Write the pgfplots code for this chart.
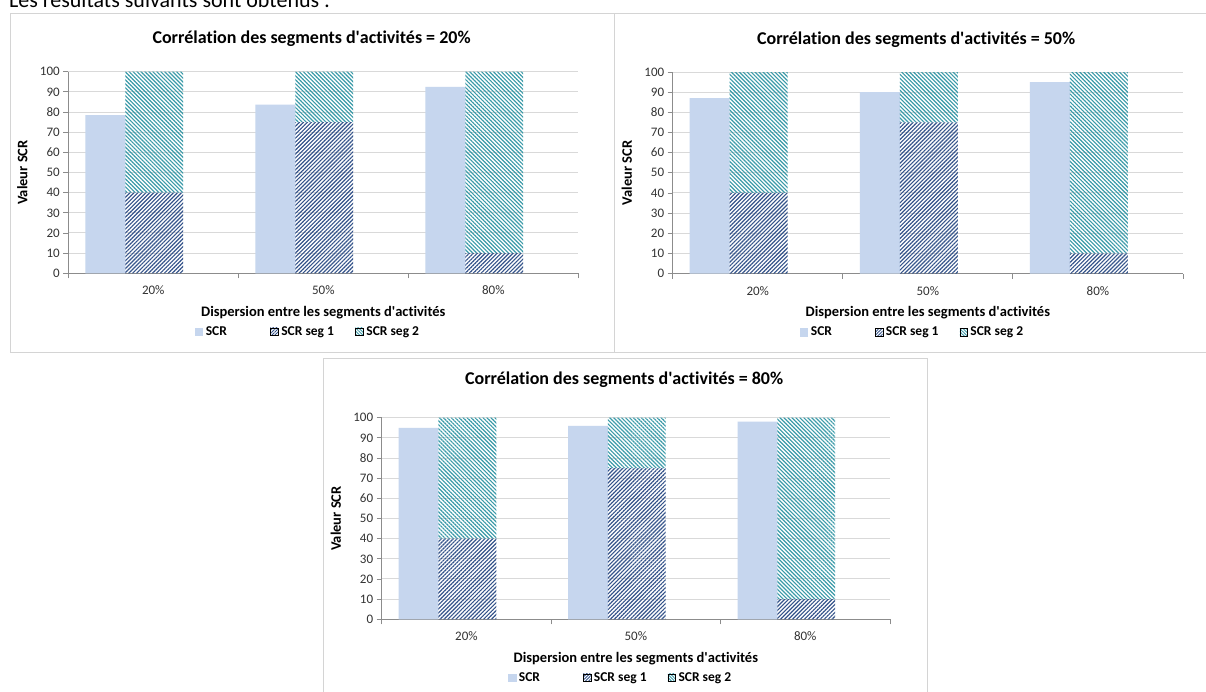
\documentclass[border=0pt]{standalone}
\usepackage{fontspec}
\setmainfont{Carlito}[Ligatures={TeX,NoCommon}]
\usepackage{pgfplots}
\pgfplotsset{compat=1.18}
\usepackage{pgfplotstable}
\usetikzlibrary{patterns.meta}
\definecolor{scr}{HTML}{C6D6EE}
\definecolor{segA}{HTML}{34538A}
\definecolor{segB}{HTML}{3A9AA8}
\definecolor{gridc}{HTML}{D9D9D9}
\definecolor{axisc}{HTML}{8C8C8C}
\definecolor{framec}{HTML}{D4D4D4}
\definecolor{txt}{HTML}{333333}

\pgfplotstableread{
xs xg scr s1 s2
0.2176 0.5056 78.5 40 60
1.2176 1.5056 83.7 75 25
2.2176 2.5056 92.5 10 90
}\tabA
\pgfplotstableread{
xs xg scr s1 s2
0.2176 0.5056 87 40 60
1.2176 1.5056 90 75 25
2.2176 2.5056 95 10 90
}\tabB
\pgfplotstableread{
xs xg scr s1 s2
0.2176 0.5056 95 40 60
1.2176 1.5056 96 75 25
2.2176 2.5056 98 10 90
}\tabC

\pgfplotsset{
  base/.style={scale only axis, height=201.6pt,
    xmin=0, xmax=3, ymin=0, ymax=100},
  segone/.style={draw=none, pattern={Lines[angle=45,distance=2.8pt,line width=1.15pt]}, pattern color=segA},
  segtwo/.style={draw=none, pattern={Lines[angle=-45,distance=2.8pt,line width=1.15pt]}, pattern color=segB},
}

\newcommand{\panel}[6]{%
\begin{axis}[base, at={(#1pt,-#2pt)}, anchor=south west, width=#3pt,
  /pgf/number format/assume math mode=true,
  ytick={0,10,...,100}, xtick={0,1,2,3}, xticklabels={},
  extra x ticks={0.5,1.5,2.5}, extra x tick labels={20\%,50\%,80\%},
  extra x tick style={major tick length=0pt},
  ymajorgrids, grid style={draw=gridc, line width=1pt},
  axis x line*=bottom, axis y line*=left,
  axis line style={draw=axisc, line width=1pt, -},
  tick style={draw=axisc, line width=0.9pt},
  major tick length=5pt, tick align=outside,
  ticklabel style={font=\fontsize{13}{15}\selectfont, text=txt},
  xticklabel style={yshift=-9pt},
  title={#5},
  title style={font=\fontsize{18}{20}\selectfont\bfseries, at={(axis description cs:0.477,#6)}, anchor=center, yshift=0pt},
  xlabel={Dispersion entre les segments d\textquotesingle activités},
  xlabel style={font=\fontsize{14.5}{16}\selectfont\bfseries, at={(axis description cs:0.5,-0.195)}, anchor=center},
  ylabel={Valeur SCR},
  ylabel style={font=\fontsize{14.5}{16}\selectfont\bfseries, at={(axis description cs:-0.090,0.5)}, anchor=center},
  legend style={at={(axis description cs:0.47,-0.29)}, anchor=center, draw=none, fill=none,
    legend columns=3, font=\fontsize{13.5}{15}\selectfont\bfseries,
    /tikz/every odd column/.append style={column sep=1pt},
    /tikz/column 2/.style={column sep=41pt},
    /tikz/column 4/.style={column sep=19pt}},
]
\addplot[ybar, bar shift=0pt, bar width=0.235, fill=scr, draw=none, forget plot] table[x=xs, y=scr] {#4};
\addlegendimage{legend image code/.code={\fill[scr] (0pt,-3.8pt) rectangle (7.5pt,3.8pt);}}
\addlegendentry{SCR}
\addlegendimage{legend image code/.code={\fill[pattern={Lines[angle=45,distance=2.2pt,line width=0.9pt]}, pattern color=segA] (0pt,-3.8pt) rectangle (7.5pt,3.8pt);}}
\addlegendentry{SCR seg 1}
\addlegendimage{legend image code/.code={\fill[pattern={Lines[angle=-45,distance=2.2pt,line width=0.9pt]}, pattern color=segB] (0pt,-3.8pt) rectangle (7.5pt,3.8pt);}}
\addlegendentry{SCR seg 2}
\end{axis}
\begin{axis}[base, at={(#1pt,-#2pt)}, anchor=south west, width=#3pt, hide axis,
  ybar stacked, bar width=0.341]
\addplot[segone] table[x=xg, y=s1] {#4};
\addplot[segtwo] table[x=xg, y=s2] {#4};
\end{axis}}

\begin{document}
\begin{tikzpicture}
\useasboundingbox (0pt,0pt) rectangle (1206pt,-691pt);
\clip (0pt,0pt) rectangle (1206pt,-691pt);
\fill[white] (0pt,0pt) rectangle (1206pt,-691pt);
\node[anchor=base west, font=\fontsize{22}{26}\selectfont, inner sep=0pt] at (9pt,-7pt) {Les résultats suivants sont obtenus :};
\draw[framec, line width=1pt] (10pt,-13pt) rectangle (614pt,-352.7pt);
\draw[framec, line width=1pt] (614pt,-13pt) rectangle (1210pt,-352.7pt);
\draw[framec, line width=1pt] (323pt,-358pt) rectangle (927pt,-700pt);
\panel{68.3}{273.3}{510}{\tabA}{Corrélation des segments d\textquotesingle activités = 20\%}{1.132}
\panel{672.7}{273.6}{510.3}{\tabB}{Corrélation des segments d\textquotesingle activités = 50\%}{1.132}
\panel{381.7}{619.3}{508.3}{\tabC}{Corrélation des segments d\textquotesingle activités = 80\%}{1.160}
\end{tikzpicture}
\end{document}
